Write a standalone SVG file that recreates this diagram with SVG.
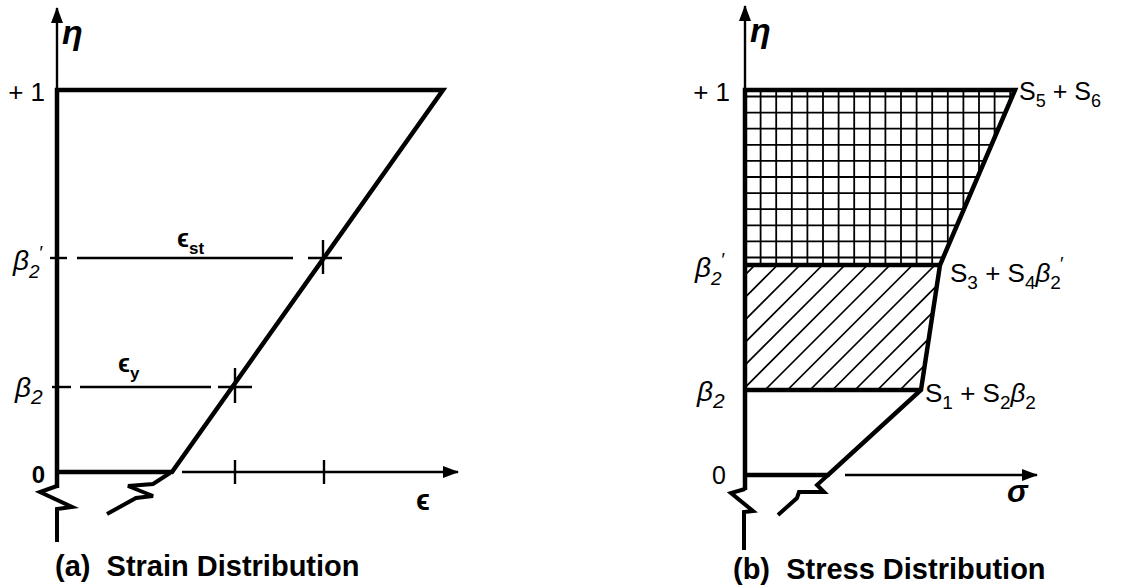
<svg xmlns="http://www.w3.org/2000/svg" width="1130" height="588" viewBox="0 0 1130 588">
<style>
.thick{stroke:#000;stroke-width:4.5;fill:none;stroke-linejoin:miter;stroke-linecap:butt}
.brk{stroke:#000;stroke-width:4;fill:none;stroke-linejoin:miter}
.thin{stroke:#000;stroke-width:2.4;fill:none}
.grid{stroke:#000;stroke-width:1.8}
.hatch{stroke:#000;stroke-width:1.6}
.lbl{font-family:"Liberation Sans",Arial,sans-serif;fill:#000}
.gk{font-family:"Liberation Sans",Arial,sans-serif;font-style:italic;fill:#000}
.cap{font-family:"Liberation Sans",Arial,sans-serif;font-weight:bold;font-size:29px;fill:#000;white-space:pre}
</style>
<defs>
<marker id="arr" viewBox="0 0 16 12" refX="15" refY="6" markerWidth="16" markerHeight="12" markerUnits="userSpaceOnUse" orient="auto"><path d="M0,0 L16,6 L0,12 z" fill="#000"/></marker>
<clipPath id="gridClip"><polygon points="745,90 1015,90 940,265 745,265"/></clipPath>
<clipPath id="hatchClip"><polygon points="745,265 940,265 921,390 745,390"/></clipPath>
</defs>
<rect width="1130" height="588" fill="#fff"/>

<g id="strain">
  <line class="thin" x1="57" y1="90" x2="57" y2="8" marker-end="url(#arr)"/>
  <path class="thick" d="M57,472 L172,472 L443,90 L57,90 L57,488"/>
  <path class="brk" d="M57,486 L40,492 L72,507 L57,509 L57,542"/>
  <path class="brk" d="M170,473 L153,484 L128,486 L153,496 L136,498 L107,514"/>
  <line class="thin" x1="182" y1="472" x2="458" y2="472" marker-end="url(#arr)"/>
  <line class="thin" x1="235" y1="460" x2="235" y2="484"/>
  <line class="thin" x1="324" y1="460" x2="324" y2="484"/>
  <line class="thin" x1="50" y1="258" x2="67" y2="258"/>
  <line class="thin" x1="77" y1="258" x2="293" y2="258"/>
  <line class="thin" x1="308" y1="258" x2="342" y2="258"/>
  <line class="thin" x1="323" y1="240" x2="323" y2="274"/>
  <line class="thin" x1="52" y1="387" x2="71" y2="387"/>
  <line class="thin" x1="80" y1="387" x2="211" y2="387"/>
  <line class="thin" x1="218" y1="387" x2="252" y2="387"/>
  <line class="thin" x1="235" y1="368" x2="235" y2="403"/>
  <text class="gk" x="62" y="44" font-size="34" font-weight="bold">η</text>
  <text class="lbl" x="45" y="101" font-size="26" text-anchor="end">+ 1</text>
  <text class="gk" x="13" y="270" font-size="28">β<tspan class="lbl" font-size="19" dy="8">2</tspan><tspan class="lbl" font-size="19" dx="-1" dy="-19">′</tspan></text>
  <text class="gk" x="15" y="397" font-size="28">β<tspan class="lbl" font-size="21" dy="7">2</tspan></text>
  <text class="lbl" x="45" y="483" font-size="24" text-anchor="end" font-weight="bold">0</text>
  <text class="lbl" x="177" y="247" font-size="25" font-weight="bold">ϵ<tspan font-size="17" dy="7">st</tspan></text>
  <text class="lbl" x="118" y="372" font-size="25" font-weight="bold">ϵ<tspan font-size="17" dy="7">y</tspan></text>
  <text class="lbl" x="416" y="510" font-size="29" font-weight="bold">ϵ</text>
  <text class="cap" x="55" y="576" xml:space="preserve">(a)  Strain Distribution</text>
</g>

<g id="stress">
  <g clip-path="url(#gridClip)">
    <path class="grid" d="M760.6,90V265M776.2,90V265M791.8,90V265M807.4,90V265M823,90V265M838.6,90V265M854.2,90V265M869.8,90V265M885.4,90V265M901,90V265M916.6,90V265M932.2,90V265M947.8,90V265M963.4,90V265M979,90V265M994.6,90V265M1010.2,90V265"/>
    <path class="grid" d="M745,96.5H1015M745,112.6H1015M745,128.7H1015M745,144.8H1015M745,160.9H1015M745,177H1015M745,193.1H1015M745,209.2H1015M745,225.3H1015M745,241.4H1015M745,257.5H1015"/>
  </g>
  <g clip-path="url(#hatchClip)">
    <path class="hatch" d="M620,400L800,220M642.5,400L822.5,220M665,400L845,220M687.5,400L867.5,220M710,400L890,220M732.5,400L912.5,220M755,400L935,220M777.5,400L957.5,220M800,400L980,220M822.5,400L1002.5,220M845,400L1025,220M867.5,400L1047.5,220M890,400L1070,220M912.5,400L1092.5,220M935,400L1115,220"/>
  </g>
  <line class="thin" x1="745" y1="90" x2="745" y2="6" marker-end="url(#arr)"/>
  <path class="thick" d="M745,265 L940,265"/>
  <path class="thick" d="M745,390 L921,390"/>
  <path class="thick" d="M745,475 L828,475 L921,390 L940,265 L1015,90 L745,90 L745,490"/>
  <path class="brk" d="M745,489 L731,493 L753,511 L744,512 L744,550"/>
  <path class="brk" d="M828,475 L817,485 L824,492 L799,492 L797,498 L778,515"/>
  <line class="thin" x1="845" y1="475" x2="1037" y2="475" marker-end="url(#arr)"/>
  <text class="gk" x="750" y="42" font-size="34" font-weight="bold">η</text>
  <text class="lbl" x="730" y="101" font-size="26" text-anchor="end">+ 1</text>
  <text class="gk" x="695" y="277" font-size="28">β<tspan class="lbl" font-size="19" dy="8">2</tspan><tspan class="lbl" font-size="19" dx="-1" dy="-19">′</tspan></text>
  <text class="gk" x="697" y="401" font-size="28">β<tspan class="lbl" font-size="21" dy="7">2</tspan></text>
  <text class="lbl" x="726" y="484" font-size="25" text-anchor="end">0</text>
  <text class="gk" x="1007" y="502" font-size="31" font-weight="bold">σ</text>
  <text class="lbl" x="1019" y="100" font-size="25">S<tspan font-size="18" dy="7">5</tspan><tspan dy="-7"> + S</tspan><tspan font-size="18" dy="7">6</tspan></text>
  <text class="lbl" x="950" y="282" font-size="26">S<tspan font-size="19" dy="7">3</tspan><tspan dy="-7"> + S</tspan><tspan font-size="19" dy="7">4</tspan><tspan class="gk" dy="-7">β</tspan><tspan font-size="19" dy="7">2</tspan><tspan font-size="19" dx="-1" dy="-19">′</tspan></text>
  <text class="lbl" x="925" y="402" font-size="26">S<tspan font-size="19" dy="7">1</tspan><tspan dy="-7"> + S</tspan><tspan font-size="19" dy="7">2</tspan><tspan class="gk" dy="-7">β</tspan><tspan font-size="19" dy="7">2</tspan></text>
  <text class="cap" x="733" y="579" xml:space="preserve">(b)  Stress Distribution</text>
</g>
</svg>
